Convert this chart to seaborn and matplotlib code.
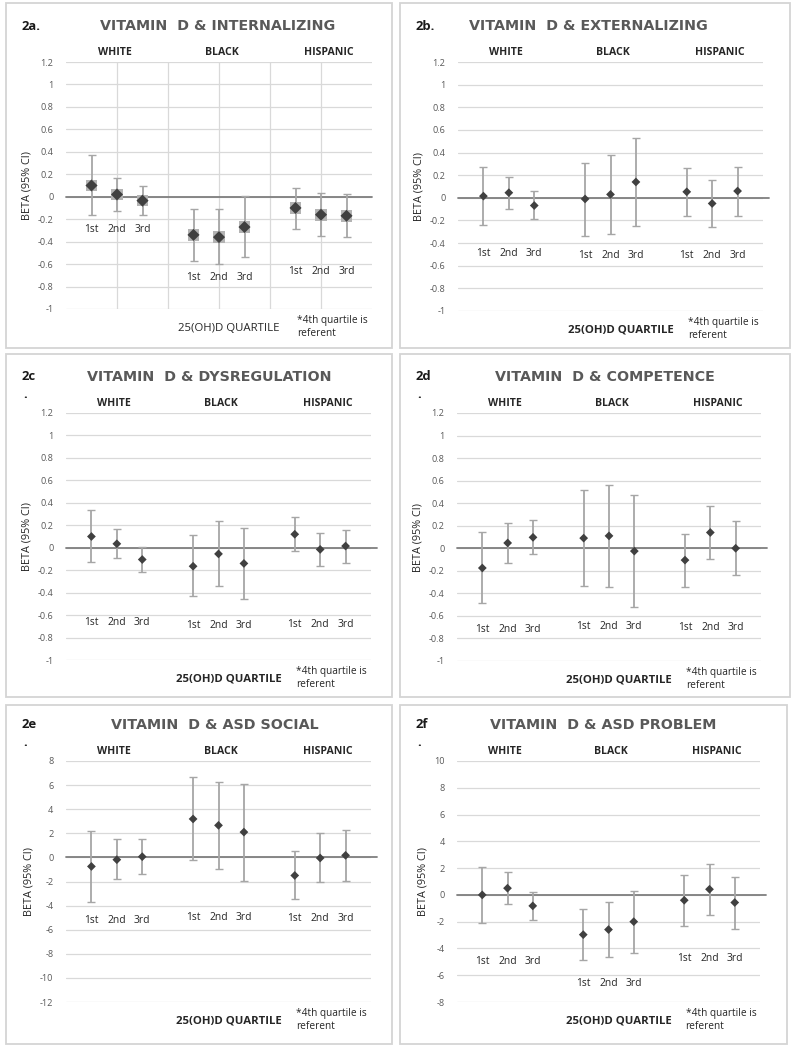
import matplotlib
matplotlib.use("Agg")
import matplotlib.pyplot as plt
import seaborn as sns
import pandas as pd
from matplotlib.patches import Rectangle

# groups / quartiles
races = ["WHITE", "BLACK", "HISPANIC"]
quartiles = ["1st", "2nd", "3rd"]

# 2a internalizing
int_beta = [0.10, 0.02, -0.035, -0.34, -0.36, -0.27, -0.10, -0.16, -0.17]
int_lo = [-0.165, -0.13, -0.16, -0.575, -0.60, -0.54, -0.29, -0.35, -0.36]
int_hi = [0.37, 0.165, 0.097, -0.11, -0.11, 0.005, 0.08, 0.03, 0.02]

# 2b externalizing
ext_beta = [0.015, 0.045, -0.068, -0.01, 0.03, 0.14, 0.053, -0.05, 0.06]
ext_lo = [-0.24, -0.10, -0.19, -0.34, -0.32, -0.245, -0.16, -0.26, -0.16]
ext_hi = [0.27, 0.18, 0.06, 0.31, 0.38, 0.53, 0.265, 0.16, 0.275]

# 2c dysregulation
dys_beta = [0.10, 0.035, -0.105, -0.165, -0.055, -0.14, 0.12, -0.015, 0.015]
dys_lo = [-0.125, -0.09, -0.215, -0.43, -0.34, -0.46, -0.025, -0.165, -0.14]
dys_hi = [0.335, 0.17, 0.01, 0.11, 0.235, 0.18, 0.27, 0.135, 0.16]

# 2d competence
com_beta = [-0.175, 0.047, 0.097, 0.09, 0.11, -0.025, -0.105, 0.14, 0.0]
com_lo = [-0.485, -0.135, -0.055, -0.335, -0.34, -0.52, -0.34, -0.095, -0.24]
com_hi = [0.14, 0.22, 0.25, 0.515, 0.56, 0.475, 0.13, 0.375, 0.245]

# 2e ASD social
soc_beta = [-0.75, -0.19, 0.06, 3.19, 2.66, 2.10, -1.50, -0.05, 0.17]
soc_lo = [-3.74, -1.83, -1.41, -0.25, -1.00, -1.99, -3.49, -2.05, -1.97]
soc_hi = [2.22, 1.52, 1.52, 6.65, 6.29, 6.12, 0.55, 2.02, 2.27]

# 2f ASD problem
prb_beta = [0.0, 0.50, -0.82, -2.97, -2.59, -2.00, -0.40, 0.42, -0.57]
prb_lo = [-2.07, -0.67, -1.85, -4.89, -4.61, -4.31, -2.29, -1.47, -2.52]
prb_hi = [2.07, 1.72, 0.20, -1.02, -0.50, 0.30, 1.52, 2.32, 1.35]

# where the "1st 2nd 3rd" labels sit (y, data units) for each race group
lab_int = [-0.29, -0.715, -0.67]
lab_ext = [-0.49, -0.51, -0.51]
lab_dys = [-0.665, -0.69, -0.68]
lab_com = [-0.72, -0.69, -0.705]
lab_soc = [-5.2, -5.0, -5.1]
lab_prb = [-5.0, -6.63, -4.76]

sns.set_theme(style="white")
plt.rcParams["font.family"] = ["Open Sans", "DejaVu Sans"]
plt.rcParams["axes.unicode_minus"] = False

W, H = 795, 1050
fig = plt.figure(figsize=(W / 100, H / 100), dpi=100)


def fx(x):
    return x / W


def fy(y):
    return 1 - y / H


GRID = "#d9d9d9"
TXT = "#595959"

panels = [
    # tag, title, beta, lo, hi, label y, ylim, step, axes px (l, t, r, b), box px, title x
    ("2a.", "VITAMIN  D & INTERNALIZING", int_beta, int_lo, int_hi, lab_int,
     (-1, 1.2), 0.2, (66, 62, 372, 309), (6, 3, 392, 348), 218),
    ("2b.", "VITAMIN  D & EXTERNALIZING", ext_beta, ext_lo, ext_hi, lab_ext,
     (-1, 1.2), 0.2, (458, 62, 763, 311), (400, 3, 790, 348), 588),
    ("2c", "VITAMIN  D & DYSREGULATION", dys_beta, dys_lo, dys_hi, lab_dys,
     (-1, 1.2), 0.2, (66, 413, 371, 660), (6, 354, 392, 697), 209),
    ("2d", "VITAMIN  D & COMPETENCE", com_beta, com_lo, com_hi, lab_com,
     (-1, 1.2), 0.2, (457, 413, 761, 661), (400, 354, 790, 697), 605),
    ("2e", "VITAMIN  D & ASD SOCIAL", soc_beta, soc_lo, soc_hi, lab_soc,
     (-12, 8), 2, (66, 761, 371, 1002), (6, 705, 392, 1044), 215),
    ("2f", "VITAMIN  D & ASD PROBLEM", prb_beta, prb_lo, prb_hi, lab_prb,
     (-8, 10), 2, (457, 761, 760, 1002), (400, 705, 787, 1044), 603),
]

for i, (tag, title, beta, lo, hi, laby, ylim, step, ap, bp, tx) in enumerate(panels):
    # panel frame
    fig.add_artist(Rectangle((fx(bp[0]), fy(bp[3])), (bp[2] - bp[0]) / W, (bp[3] - bp[1]) / H,
                             transform=fig.transFigure, fill=False, ec="#d4d4d4", lw=1.3))

    l, t, r, b = ap
    ax = fig.add_axes([fx(l), fy(b), (r - l) / W, (b - t) / H])

    df = pd.DataFrame({
        "race": [rc for rc in races for _ in quartiles],
        "quartile": quartiles * 3,
        "beta": beta, "lo": lo, "hi": hi,
    })
    df["x"] = [4 * races.index(rc) + quartiles.index(q) + 1 for rc, q in zip(df["race"], df["quartile"])]

    ax.errorbar(df["x"], df["beta"], yerr=[df["beta"] - df["lo"], df["hi"] - df["beta"]],
                fmt="none", ecolor="#a6a6a6", elinewidth=1.3, capsize=3, capthick=1.0, zorder=2)
    if i == 0:
        sns.scatterplot(data=df, x="x", y="beta", marker="s", s=70, color="#b3b3b3",
                        edgecolor="none", ax=ax, zorder=3)
        sns.scatterplot(data=df, x="x", y="beta", marker="D", s=38, color="#404040",
                        edgecolor="none", ax=ax, zorder=4)
    else:
        sns.scatterplot(data=df, x="x", y="beta", marker="D", s=20, color="#404040",
                        edgecolor="none", ax=ax, zorder=4)

    ax.set_xlim(0, 12)
    ax.set_ylim(*ylim)
    n = int(round((ylim[1] - ylim[0]) / step))
    yt = [round(ylim[0] + k * step, 2) for k in range(n + 1)]
    ax.set_yticks(yt)
    ax.set_yticklabels([f"{v:g}" for v in yt], fontsize=6.6, color=TXT)
    ax.tick_params(axis="y", length=0, pad=9)
    ax.set_xticks([])
    for s in ax.spines.values():
        s.set_visible(False)
    ax.grid(axis="y", color=GRID, lw=0.9)
    if i == 0:
        for gx in [2, 4, 6, 8, 10]:
            ax.axvline(gx, color=GRID, lw=0.9, zorder=0)
    ax.axhline(0, xmin=0, xmax=1.0 if i == 0 else 1.02, color="#7f7f7f", lw=1.3,
               clip_on=False, zorder=1)
    ax.set_axisbelow(True)
    ax.set_xlabel("")
    ax.set_ylabel("BETA (95% CI)", fontsize=7.8, color="#262626", labelpad=4)

    # quartile labels under each group
    for x, q, rc in zip(df["x"], df["quartile"], df["race"]):
        ax.text(x, laby[races.index(rc)], q, ha="center", va="center", fontsize=7.4, color="#262626")

    # race headers
    for g, rc in enumerate(races):
        ax.annotate(rc, xy=([1.9, 6.1, 10.3][g], 1), xycoords=("data", "axes fraction"),
                    xytext=(0, 6.5), textcoords="offset points", ha="center", va="center",
                    fontsize=7.6, fontweight="bold", color="#262626")

    # bottom notes
    ax.annotate("25(OH)D QUARTILE", xy=(6.4, 0), xycoords=("data", "axes fraction"),
                xytext=(0, -14), textcoords="offset points", ha="center", va="center",
                fontsize=8.2, fontweight="normal" if i == 0 else "bold", color="#262626")
    ax.annotate("*4th quartile is\nreferent", xy=(9.05, 0), xycoords=("data", "axes fraction"),
                xytext=(0, -13), textcoords="offset points", ha="left", va="center",
                fontsize=7.3, color="#262626", linespacing=1.25)

    # title and tag
    ty = t - 36
    fig.text(fx(tx), fy(ty), title, ha="center", va="center", fontsize=10.3,
             fontweight="bold", color=TXT, family="DejaVu Sans")
    tagx = bp[0] + 16
    fig.text(fx(tagx), fy(ty), tag, ha="left", va="center", fontsize=9.4,
             fontweight="bold", color="#1a1a1a")
    if not tag.endswith("."):
        fig.text(fx(tagx + 1), fy(ty + 18), ".", ha="left", va="center", fontsize=9.4,
                 fontweight="bold", color="#1a1a1a")

fig.savefig("out.png", dpi=100, facecolor="white")
